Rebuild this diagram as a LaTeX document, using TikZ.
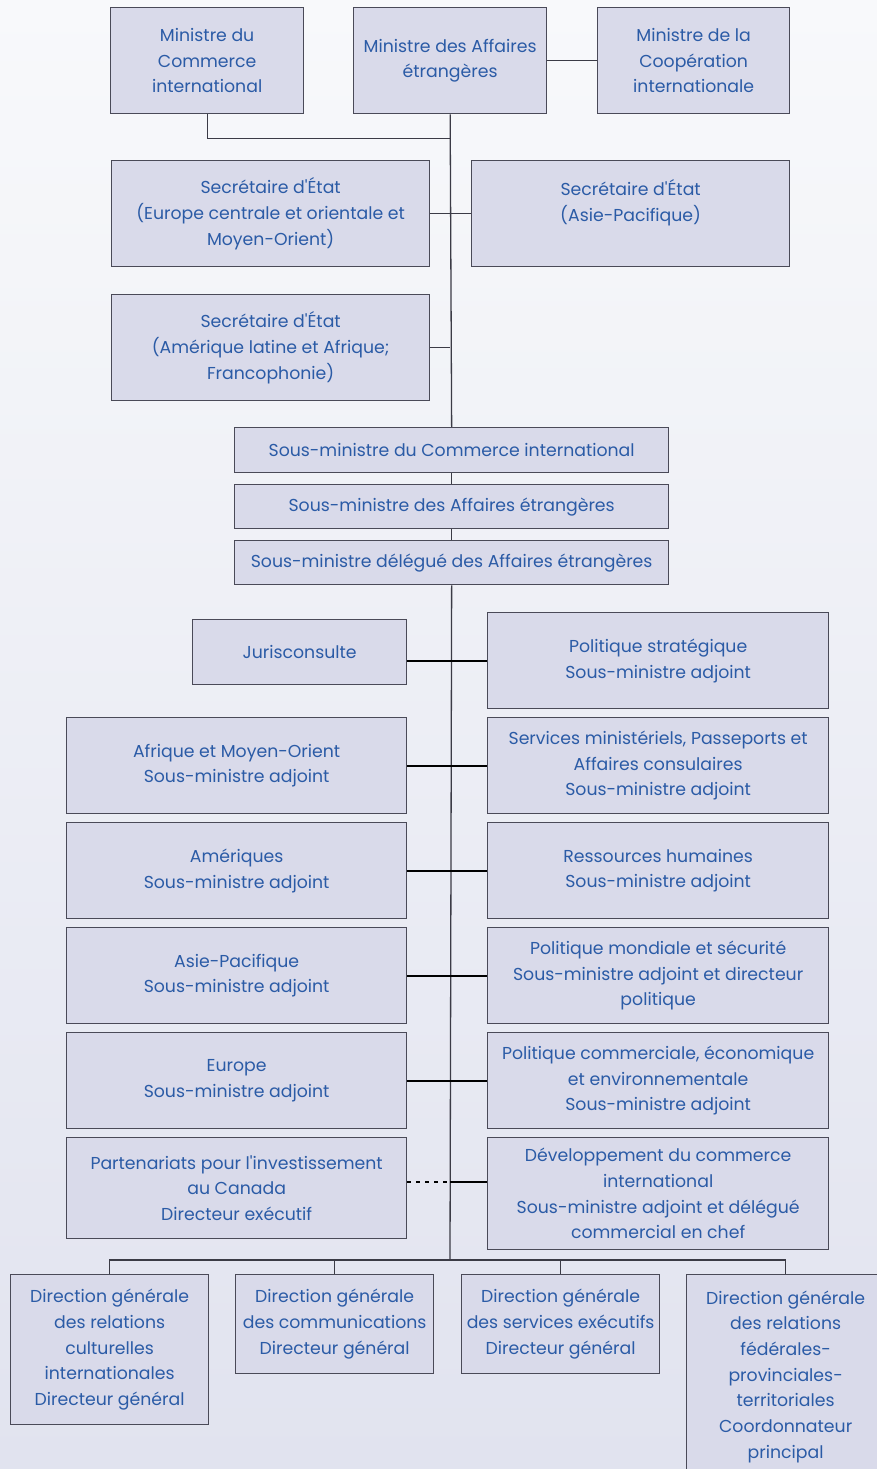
\documentclass[tikz,border=0pt]{standalone}
\usepackage{fontspec}
\setmainfont{Poppins}
\usetikzlibrary{calc}
\pgfdeclarelayer{bg}
\pgfdeclarelayer{wires}
\pgfsetlayers{bg,wires,main}
\definecolor{boxfill}{HTML}{D9DAEA}
\definecolor{boxline}{HTML}{4A4A58}
\definecolor{txtblue}{HTML}{2B5BA6}
\definecolor{pagetop}{HTML}{F8F9FB}
\definecolor{pagebot}{HTML}{E1E3EF}

\tikzset{
	unit/.style={draw=boxline, fill=boxfill, line width=1.3pt, text=txtblue,
		align=center, inner sep=0pt, anchor=north west,
		font=\fontsize{17.3}{25.7}\selectfont},
	wire/.style={draw=boxline!80!black, line width=1.3pt},
	pairwire/.style={draw=black, line width=2.2pt},
	dotwire/.style={draw=black, line width=2.2pt, dash pattern=on 4pt off 5pt}
}

\begin{document}
\begin{tikzpicture}[x=1pt, y=-1pt]
		\useasboundingbox (0,0) rectangle (877,1469);
		\begin{pgfonlayer}{bg}
			\shade[top color=pagetop, bottom color=pagebot] (0,0) rectangle (877,1469);
		\end{pgfonlayer}
		\clip (0,0) rectangle (877,1469);

		% ministres
		\node[unit, minimum width=193, minimum height=106] (MinCom) at (110,7) {Ministre du\\Commerce\\international};
		\node[unit, minimum width=193, minimum height=106] (MinAE) at (353,7) {Ministre des Affaires\\étrangères};
		\node[unit, minimum width=192, minimum height=106] (MinCoop) at (597,7) {Ministre de la\\Coopération\\internationale};

		% secretaires d'Etat
		\node[unit, minimum width=318, minimum height=106] (SecEur) at (111,160) {Secrétaire d\textquotesingle État\\(Europe centrale et orientale et\\Moyen-Orient)};
		\node[unit, minimum width=318, minimum height=106] (SecAsie) at (471,160) {Secrétaire d\textquotesingle État\\(Asie-Pacifique)\\~};
		\node[unit, minimum width=318, minimum height=106] (SecAmer) at (111,294) {Secrétaire d\textquotesingle État\\(Amérique latine et Afrique;\\Francophonie)};

		% sous-ministres
		\node[unit, minimum width=434, minimum height=45] (SMCom) at (234,427) {Sous-ministre du Commerce international};
		\node[unit, minimum width=434, minimum height=44] (SMAE) at (234,484) {Sous-ministre des Affaires étrangères};
		\node[unit, minimum width=434, minimum height=44] (SMDel) at (234,540) {Sous-ministre délégué des Affaires étrangères};

		% sous-ministres adjoints
		\node[unit, minimum width=214, minimum height=65] (Juris) at (192,619) {Jurisconsulte};
		\node[unit, minimum width=341, minimum height=96] (PolStrat) at (487,612) {Politique stratégique\\Sous-ministre adjoint};
		\node[unit, minimum width=340, minimum height=96] (AfrMO) at (66,717) {Afrique et Moyen-Orient\\Sous-ministre adjoint};
		\node[unit, minimum width=341, minimum height=96] (ServMin) at (487,717) {Services ministériels, Passeports et\\Affaires consulaires\\Sous-ministre adjoint};
		\node[unit, minimum width=340, minimum height=96] (Amer) at (66,822) {Amériques\\Sous-ministre adjoint};
		\node[unit, minimum width=341, minimum height=96] (RessHum) at (487,822) {Ressources humaines\\Sous-ministre adjoint};
		\node[unit, minimum width=340, minimum height=96] (AsiePac) at (66,927) {Asie-Pacifique\\Sous-ministre adjoint};
		\node[unit, minimum width=341, minimum height=96] (PolMond) at (487,927) {Politique mondiale et sécurité\\Sous-ministre adjoint et directeur\\politique};
		\node[unit, minimum width=340, minimum height=96] (Europe) at (66,1032) {Europe\\Sous-ministre adjoint};
		\node[unit, minimum width=341, minimum height=96] (PolComm) at (487,1032) {Politique commerciale, économique\\et environnementale\\Sous-ministre adjoint};
		\node[unit, minimum width=340, minimum height=101] (PartInv) at (66,1137) {Partenariats pour l\textquotesingle investissement\\au Canada\\Directeur exécutif};
		\node[unit, minimum width=341, minimum height=112] (DevComm) at (487,1137) {Développement du commerce\\international\\Sous-ministre adjoint et délégué\\commercial en chef};

		% directions generales
		\node[unit, minimum width=198, minimum height=150] (DGCult) at (10,1274) {Direction générale\\des relations\\culturelles\\internationales\\Directeur général};
		\node[unit, minimum width=198, minimum height=99] (DGComm) at (235,1274) {Direction générale\\des communications\\Directeur général};
		\node[unit, minimum width=198, minimum height=99] (DGServ) at (461,1274) {Direction générale\\des services exécutifs\\Directeur général};
		\node[unit, minimum width=198, minimum height=204] (DGFed) at (686,1274) {Direction générale\\des relations\\fédérales-\\provinciales-\\territoriales\\Coordonnateur\\principal};

		\coordinate (hub) at (450,1260);

		\begin{pgfonlayer}{wires}
			% tronc
			\draw[wire] (MinAE.south) -- (SMCom.north);
			\draw[wire] (SMCom.south) -- (SMAE.north);
			\draw[wire] (SMAE.south) -- (SMDel.north);
			\draw[wire] (SMDel.south) -- (hub);
			\draw[wire] (MinAE.east) -- (MinCoop.west);
			\draw[wire] (MinCom.south) |- ($(MinAE.south)+(0,24)$);
			\draw[wire] (SecEur.east) -- (SecAsie.west);
			\draw[wire] (SecAmer.east) -- (SecAmer.east -| hub);

			% paires
			\draw[pairwire] (PolStrat.west -| Juris.east) -- (PolStrat.west);
			\draw[pairwire] (AfrMO.east) -- (ServMin.west);
			\draw[pairwire] (Amer.east) -- (RessHum.west);
			\draw[pairwire] (AsiePac.east) -- (PolMond.west);
			\draw[pairwire] (Europe.east) -- (PolComm.west);
			\draw[dotwire] (PartInv.east |- 0,1182) -- (hub |- 0,1182);
			\draw[pairwire] (hub |- 0,1182) -- (DevComm.west |- 0,1182);

			% directions
			\draw[wire] (DGCult.north) |- (hub) -| (DGFed.north);
			\draw[wire] (DGComm.north) -- (DGComm.north |- hub);
			\draw[wire] (DGServ.north) -- (DGServ.north |- hub);
		\end{pgfonlayer}
\end{tikzpicture}
\end{document}
